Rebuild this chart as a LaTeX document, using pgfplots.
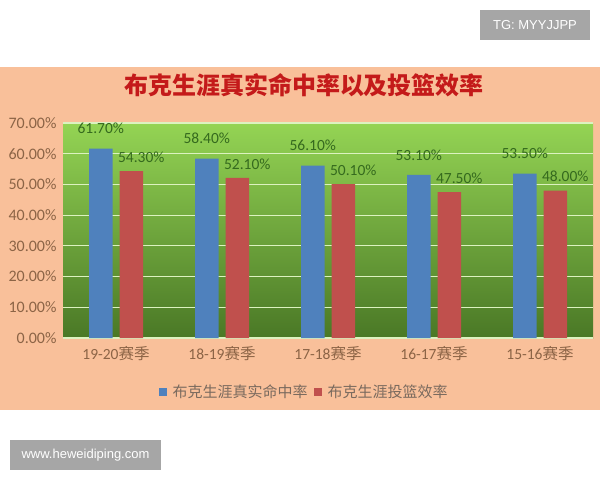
\documentclass[border=0pt]{standalone}
\usepackage{fontspec}
\setmainfont{Carlito}
\newfontfamily\arial{Liberation Sans}
\newfontfamily\cjk{Noto Sans CJK SC}
\usepackage{pgfplots}
\usepackage{pgfplotstable}
\pgfplotsset{compat=1.18}

\definecolor{bgorange}{HTML}{F9C09A}
\definecolor{barblue}{HTML}{4F81BD}
\definecolor{barred}{HTML}{C0504D}
\definecolor{titlered}{HTML}{C41A1A}
\definecolor{tickbrown}{HTML}{8C6446}
\definecolor{labelgreen}{HTML}{356A1E}
\definecolor{legendgray}{HTML}{7A6A5E}
\definecolor{greentop}{HTML}{94D454}
\definecolor{greenmid}{HTML}{74B23E}
\definecolor{greenbot}{HTML}{4A7826}
\definecolor{gridgreen}{HTML}{DCF2C0}
\definecolor{wmgray}{HTML}{A6A6A6}

% season index, true shooting %, effective FG %
\pgfplotstableread{
idx ts efg
0 61.7 54.3
1 58.4 52.1
2 56.1 50.1
3 53.1 47.5
4 53.5 48.0
}\bookerdata

\begin{document}
\begin{tikzpicture}[x=1pt,y=1pt]
\fill[white] (0,0) rectangle (600,-480);
\path[use as bounding box] (0,0) rectangle (600,-480);
\fill[bgorange] (0,-67) rectangle (600,-410);

\node[text=titlered, font=\cjk\bfseries\fontsize{24}{24}\selectfont] at (304,-85)
  {布克生涯真实命中率以及投篮效率};

\begin{axis}[
    at={(63pt,-338pt)}, anchor=south west,
    scale only axis, width=530pt, height=215pt,
    xmin=-0.5, xmax=4.5, ymin=0, ymax=70,
    ybar=7pt, bar width=23.5pt,
    axis background/.style={shade, top color=greentop, middle color=greenmid, bottom color=greenbot},
    axis line style={draw=none},
    major tick length=0pt,
    ymajorgrids, major grid style={gridgreen, line width=1.2pt},
    xtick={0,1,2,3,4},
    xticklabels={19-20{\cjk 赛季}, 18-19{\cjk 赛季}, 17-18{\cjk 赛季}, 16-17{\cjk 赛季}, 15-16{\cjk 赛季}},
    xticklabel style={font=\fontsize{15.5}{15.5}\selectfont, text=tickbrown, yshift=-5pt},
    ytick={0,10,...,70},
    yticklabel={\pgfmathprintnumber[fixed,fixed zerofill,precision=2]{\tick}\%},
    yticklabel style={font=\fontsize{16}{16}\selectfont, text=tickbrown, xshift=-3pt},
    /pgf/number format/assume math mode=true,
    nodes near coords={\pgfmathprintnumber[fixed,fixed zerofill,precision=2]{\pgfplotspointmeta}\%},
    every node near coord/.append style={font=\fontsize{15.5}{15.5}\selectfont, text=labelgreen, anchor=center},
    legend columns=2,
    legend image code/.code={\fill[#1] (0pt,-4pt) rectangle (8pt,4pt);},
    legend style={at={(0.455,-0.251)}, anchor=center, draw=none, fill=none,
      font=\cjk\fontsize{15}{15}\selectfont, text=legendgray,
      /tikz/every odd column/.append style={column sep=4pt},
      /tikz/every even column/.append style={column sep=4pt}},
]
\addplot[fill=barblue, draw=none,
  every node near coord/.append style={yshift=20pt}] table[x=idx, y=ts] {\bookerdata};
\addplot[fill=barred, draw=none,
  every node near coord/.append style={yshift=14pt, xshift=10pt}] table[x=idx, y=efg] {\bookerdata};
\legend{布克生涯真实命中率, 布克生涯投篮效率}
\end{axis}

\fill[wmgray] (480,-10) rectangle (590,-40);
\node[text=white, font=\arial\fontsize{13}{13}\selectfont] at (535,-25) {TG: MYYJJPP};
\fill[wmgray] (10,-440) rectangle (161,-470);
\node[text=white, font=\arial\fontsize{13}{13}\selectfont] at (85.5,-455) {www.heweidiping.com};
\end{tikzpicture}
\end{document}
